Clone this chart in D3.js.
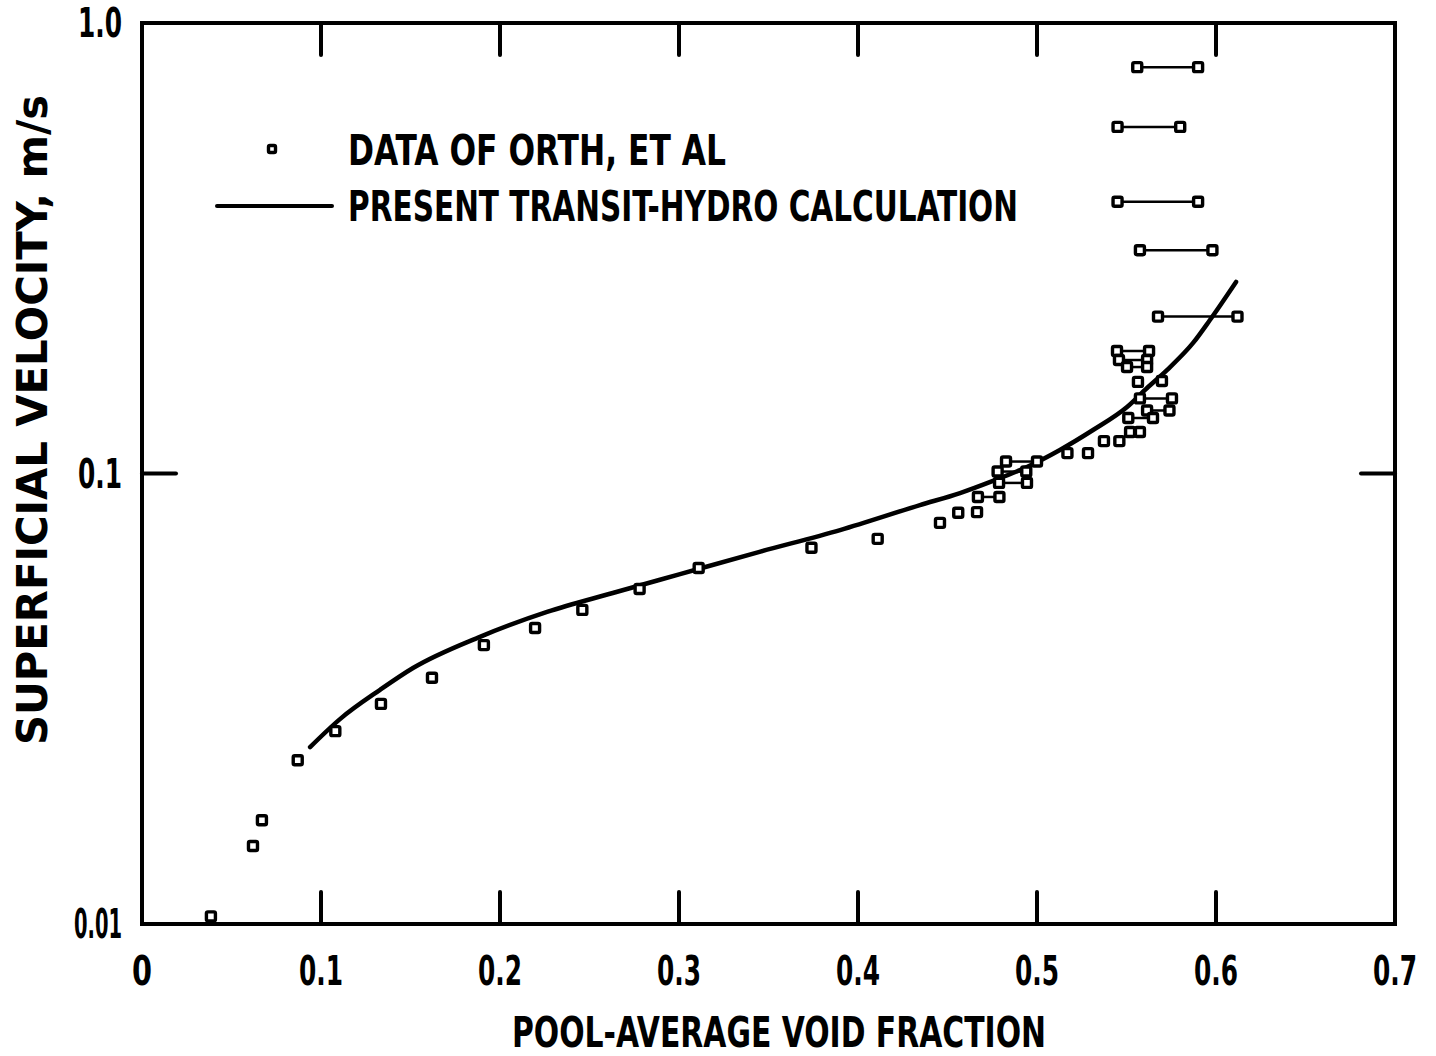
<!DOCTYPE html>
<html><head><meta charset="utf-8">
<script src="https://cdn.jsdelivr.net/npm/d3@7"></script>
<style>
html,body{margin:0;padding:0;background:#fff;}
svg text{font-family:"DejaVu Sans Condensed","Liberation Sans Narrow","DejaVu Sans",sans-serif;font-weight:bold;fill:#000;}
</style></head>
<body>
<svg id="c" width="1436" height="1056"></svg>
<script>
// ---- data ----
const xTicks = [0, 0.1, 0.2, 0.3, 0.4, 0.5, 0.6, 0.7];
const xTickLabels = ["0", "0.1", "0.2", "0.3", "0.4", "0.5", "0.6", "0.7"];
const yTicks = [0.01, 0.1, 1.0];
const yTickLabels = ["0.01", "0.1", "1.0"];

// single data points (void fraction, superficial velocity m/s)
const dataX = [0.0385, 0.062, 0.067, 0.087, 0.108, 0.1335, 0.162, 0.191, 0.2196, 0.246, 0.278, 0.311,
  0.374, 0.411, 0.4458, 0.456, 0.4665, 0.517, 0.5285, 0.5374, 0.546, 0.5564, 0.5698];
const dataY = [0.0104, 0.0149, 0.0170, 0.0231, 0.0268, 0.0308, 0.0352, 0.0416, 0.0454, 0.0498, 0.0554, 0.0617,
  0.0684, 0.0716, 0.0777, 0.0818, 0.0821, 0.111, 0.111, 0.118, 0.118, 0.1597, 0.1604];

// range data (two void fractions at one velocity, joined by a bar)
const rangeLo = [0.556, 0.545, 0.545, 0.5575, 0.5676, 0.5447, 0.5458, 0.5503, 0.5575, 0.5615, 0.551, 0.552,
  0.4827, 0.478, 0.4788, 0.467];
const rangeHi = [0.590, 0.580, 0.590, 0.598, 0.612, 0.5626, 0.5615, 0.5615, 0.5754, 0.574, 0.5648, 0.5575,
  0.500, 0.494, 0.4944, 0.479];
const rangeY = [0.798, 0.588, 0.401, 0.313, 0.223, 0.187, 0.1786, 0.1723, 0.1468, 0.138, 0.1328, 0.1236,
  0.1063, 0.101, 0.0953, 0.0887];

// TRANSIT-HYDRO calculation curve
const calcX = [0.0939, 0.1106, 0.133, 0.1514, 0.1888, 0.2263, 0.263, 0.3006, 0.345, 0.390, 0.4346, 0.457,
  0.4754, 0.4944, 0.5128, 0.5313, 0.5503, 0.5615, 0.5726, 0.5872, 0.5966, 0.6112];
const calcY = [0.0247, 0.0285, 0.0331, 0.0370, 0.0434, 0.0493, 0.0543, 0.0598, 0.0670, 0.0749, 0.0851, 0.0905,
  0.0963, 0.1034, 0.1128, 0.1249, 0.1405, 0.1548, 0.1697, 0.1949, 0.2191, 0.2662];

const legendLabels = ["DATA OF ORTH, ET AL", "PRESENT TRANSIT-HYDRO CALCULATION"];
const xTitle = "POOL-AVERAGE VOID FRACTION";
const yTitle = "SUPERFICIAL VELOCITY, m/s";

// ---- drawing ----
const svg = d3.select("#c");
const L = 142, R = 1395, T = 23, B = 924;
const x = d3.scaleLinear().domain([0, 0.7]).range([L, R]);
const y = d3.scaleLog().domain([0.01, 1]).range([B, T]);

const SW = 4;
const tickLen = 32;
const g = svg.append("g");
xTicks.slice(1, -1).forEach(t => {
  g.append("line").attr("x1", x(t)).attr("x2", x(t)).attr("y1", B).attr("y2", B - tickLen)
    .attr("stroke", "#000").attr("stroke-width", SW).attr("stroke-linecap", "round");
  g.append("line").attr("x1", x(t)).attr("x2", x(t)).attr("y1", T).attr("y2", T + tickLen)
    .attr("stroke", "#000").attr("stroke-width", SW).attr("stroke-linecap", "round");
});
yTicks.slice(1, -1).forEach(t => {
  g.append("line").attr("x1", L).attr("x2", L + 34).attr("y1", y(t)).attr("y2", y(t))
    .attr("stroke", "#000").attr("stroke-width", SW).attr("stroke-linecap", "round");
  g.append("line").attr("x1", R).attr("x2", R - 34).attr("y1", y(t)).attr("y2", y(t))
    .attr("stroke", "#000").attr("stroke-width", SW).attr("stroke-linecap", "round");
});
svg.append("rect").attr("x", L).attr("y", T).attr("width", R - L).attr("height", B - T)
  .attr("fill", "none").attr("stroke", "#000").attr("stroke-width", SW);

// x tick labels
xTicks.forEach((t, i) => {
  const lab = xTickLabels[i];
  svg.append("text").attr("x", x(t)).attr("y", 985).attr("text-anchor", "middle")
    .attr("font-size", 40).attr("textLength", lab.length === 3 ? 44 : 20)
    .attr("lengthAdjust", "spacingAndGlyphs").text(lab);
});
// y tick labels
yTicks.forEach((t, i) => {
  const lab = yTickLabels[i];
  svg.append("text").attr("x", 122).attr("y", y(t) + 14).attr("text-anchor", "end")
    .attr("font-size", 40).attr("textLength", lab.length === 4 ? 48 : 44)
    .attr("lengthAdjust", "spacingAndGlyphs").text(lab);
});

// axis titles
svg.append("text").attr("x", 512).attr("y", 1047).attr("font-size", 42)
  .attr("textLength", 534).attr("lengthAdjust", "spacingAndGlyphs").text(xTitle);
svg.append("text").attr("transform", "translate(47,745) rotate(-90)").attr("font-size", 42)
  .attr("textLength", 650).attr("lengthAdjust", "spacingAndGlyphs").text(yTitle);

// curve
const line = d3.line().x(d => x(d[0])).y(d => y(d[1])).curve(d3.curveMonotoneX);
svg.append("path").datum(calcX.map((v, i) => [v, calcY[i]])).attr("d", line)
  .attr("fill", "none").attr("stroke", "#000").attr("stroke-width", 4.5).attr("stroke-linecap", "round");

// range bars
const rg = svg.append("g");
rangeY.forEach((v, i) => {
  rg.append("line").attr("x1", x(rangeLo[i])).attr("x2", x(rangeHi[i])).attr("y1", y(v)).attr("y2", y(v))
    .attr("stroke", "#000").attr("stroke-width", 2.5);
});
const S = 9;
function sq(px, py, s) {
  svg.append("rect").attr("x", px - s / 2).attr("y", py - s / 2).attr("width", s).attr("height", s)
    .attr("rx", 1.5).attr("fill", "#fff").attr("stroke", "#000").attr("stroke-width", 3.4);
}
rangeY.forEach((v, i) => { sq(x(rangeLo[i]), y(v), S); sq(x(rangeHi[i]), y(v), S); });
dataX.forEach((v, i) => sq(x(v), y(dataY[i]), S));

// legend
sq(272, 149, 7);
svg.append("text").attr("x", 348).attr("y", 165).attr("font-size", 42)
  .attr("textLength", 378).attr("lengthAdjust", "spacingAndGlyphs").text(legendLabels[0]);
svg.append("line").attr("x1", 217).attr("x2", 332).attr("y1", 206).attr("y2", 206)
  .attr("stroke", "#000").attr("stroke-width", 4).attr("stroke-linecap", "round");
svg.append("text").attr("x", 348).attr("y", 221).attr("font-size", 42)
  .attr("textLength", 670).attr("lengthAdjust", "spacingAndGlyphs").text(legendLabels[1]);
</script>
</body></html>
